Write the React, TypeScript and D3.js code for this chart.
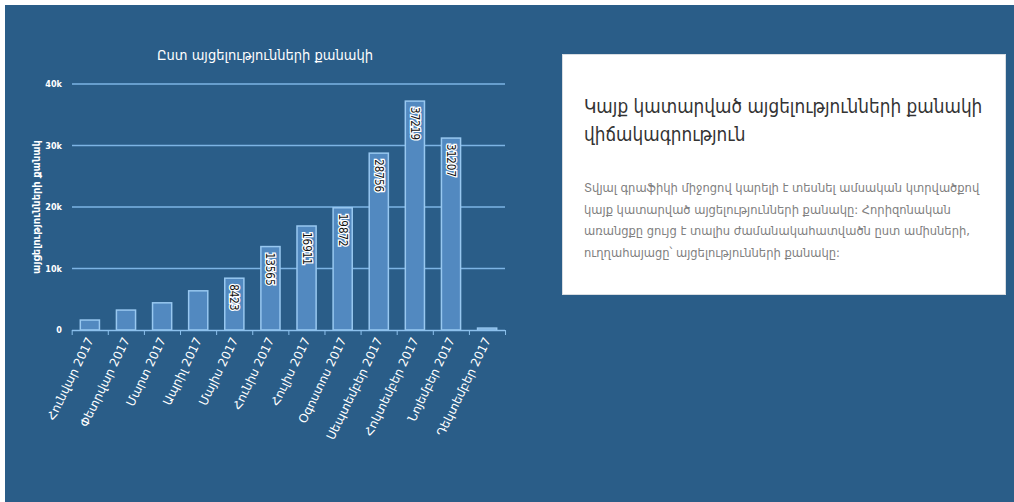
import { useEffect, useRef } from "react";
import * as d3 from "d3";

const months = [
  "Հունվար 2017",
  "Փետրվար 2017",
  "Մարտ 2017",
  "Ապրիլ 2017",
  "Մայիս 2017",
  "Հունիս 2017",
  "Հուլիս 2017",
  "Օգոստոս 2017",
  "Սեպտեմբեր 2017",
  "Հոկտեմբեր 2017",
  "Նոյեմբեր 2017",
  "Դեկտեմբեր 2017",
];
const visits = [1620, 3240, 4420, 6370, 8423, 13565, 16911, 19872, 28756, 37219, 31207, 310];
const yTicks = [0, 10000, 20000, 30000, 40000];
const yTickLabels = ["0", "10k", "20k", "30k", "40k"];

const chartTitle = "Ըստ այցելությունների քանակի";
const yAxisTitle = "այցելությունների քանակ";
const panelTitle = ["Կայք կատարված այցելությունների քանակի", "վիճակագրություն"];
const panelText = [
  "Տվյալ գրաֆիկի միջոցով կարելի է տեսնել ամսական կտրվածքով",
  "կայք կատարված այցելությունների քանակը: Հորիզոնական",
  "առանցքը ցույց է տալիս ժամանակահատվածն ըստ ամիսների,",
  "ուղղահայացը՝ այցելությունների քանակը:",
];

const W = 1014;
const H = 502;
const FONT = "'DejaVu Sans Condensed', 'DejaVu Sans', sans-serif";
const FONT_WIDE = "'DejaVu Sans', sans-serif";

export default function App() {
  const svgRef = useRef<SVGSVGElement>(null);

  useEffect(() => {
    if (!svgRef.current) return;
    const svg = d3.select(svgRef.current);
    svg.selectAll("*").remove();

    // background
    svg.append("rect").attr("x", 5).attr("y", 5).attr("width", W - 5).attr("height", H - 5).attr("fill", "#2a5d88");

    const left = 72;
    const right = 505;
    const top = 84;
    const bottom = 330;

    const x = d3.scaleBand<string>().domain(months).range([left, right]).paddingInner(0.47).paddingOuter(0.23);
    const y = d3.scaleLinear().domain([0, 40000]).range([bottom, top]);

    // title
    svg.append("text")
      .attr("x", 265)
      .attr("y", 60)
      .attr("text-anchor", "middle")
      .attr("fill", "#ffffff")
      .attr("font-family", FONT)
      .attr("font-size", 14.5)
      .text(chartTitle);

    // grid lines
    svg.append("g")
      .selectAll("line")
      .data(yTicks.filter((d) => d > 0))
      .join("line")
      .attr("x1", left)
      .attr("x2", right)
      .attr("y1", (d) => y(d))
      .attr("y2", (d) => y(d))
      .attr("stroke", "#7db4e4")
      .attr("stroke-width", 1.5);

    // y tick labels
    svg.append("g")
      .selectAll("text")
      .data(yTicks)
      .join("text")
      .attr("x", 62)
      .attr("y", (d) => y(d) + 3)
      .attr("text-anchor", "end")
      .attr("fill", "#ffffff")
      .attr("font-family", FONT)
      .attr("font-size", 9)
      .attr("font-weight", "bold")
      .text((_, i) => yTickLabels[i]);

    // y axis title
    svg.append("text")
      .attr("transform", `translate(40, ${(top + bottom) / 2}) rotate(-90)`)
      .attr("text-anchor", "middle")
      .attr("fill", "#ffffff")
      .attr("font-family", FONT)
      .attr("font-size", 11)
      .attr("font-weight", "bold")
      .text(yAxisTitle);

    // bars
    svg.append("g")
      .selectAll("rect")
      .data(visits)
      .join("rect")
      .attr("x", (_, i) => x(months[i])!)
      .attr("y", (d) => y(d))
      .attr("width", x.bandwidth())
      .attr("height", (d) => bottom - y(d))
      .attr("fill", "#5289c0")
      .attr("stroke", "#98c8f0")
      .attr("stroke-width", 1.5);

    // value labels
    svg.append("g")
      .selectAll("text")
      .data(visits.map((v, i) => ({ v, i })).filter((d) => d.v > 8000))
      .join("text")
      .attr("transform", (d) => `translate(${x(months[d.i])! + x.bandwidth() / 2 - 4}, ${y(d.v) + 6}) rotate(90)`)
      .attr("fill", "#111111")
      .attr("stroke", "#ffffff")
      .attr("stroke-width", 2.5)
      .attr("paint-order", "stroke")
      .attr("font-family", FONT)
      .attr("font-size", 11.5)
      .text((d) => String(d.v));

    // x axis
    const xAxis = svg.append("g");
    xAxis.append("line")
      .attr("x1", left)
      .attr("x2", right)
      .attr("y1", bottom + 0.5)
      .attr("y2", bottom + 0.5)
      .attr("stroke", "#8cc0ec")
      .attr("stroke-width", 1.5);
    const boundaries = d3.range(months.length + 1).map((i) => left + i * x.step() - (x.step() * 0.23 - x.step() * 0.235));
    xAxis.selectAll("line.tick")
      .data(boundaries)
      .join("line")
      .attr("class", "tick")
      .attr("x1", (d) => d)
      .attr("x2", (d) => d)
      .attr("y1", bottom)
      .attr("y2", bottom + 5)
      .attr("stroke", "#8cc0ec")
      .attr("stroke-width", 1);

    xAxis.selectAll("text")
      .data(months)
      .join("text")
      .attr("transform", (d) => `translate(${x(d)! + x.bandwidth() / 2 + 4}, ${bottom + 10}) rotate(-64)`)
      .attr("text-anchor", "end")
      .attr("fill", "#ffffff")
      .attr("font-family", FONT_WIDE)
      .attr("font-size", 12)
      .text((d) => d);

    // info panel
    const panel = svg.append("g");
    panel.append("rect")
      .attr("x", 562.5)
      .attr("y", 54.5)
      .attr("width", 443)
      .attr("height", 240)
      .attr("fill", "#ffffff")
      .attr("stroke", "#d8dde2")
      .attr("stroke-width", 1);
    panel.selectAll("text.title")
      .data(panelTitle)
      .join("text")
      .attr("class", "title")
      .attr("x", 584)
      .attr("y", (_, i) => 113 + i * 28)
      .attr("fill", "#333333")
      .attr("font-family", FONT)
      .attr("font-size", 18.8)
      .text((d) => d);
    panel.selectAll("text.body")
      .data(panelText)
      .join("text")
      .attr("class", "body")
      .attr("x", 584)
      .attr("y", (_, i) => 192 + i * 21.5)
      .attr("fill", "#808080")
      .attr("font-family", FONT)
      .attr("font-size", 12.8)
      .text((d) => d);
  }, []);

  return (
    <div style={{ position: "absolute", left: 0, top: 0 }}>
      <svg ref={svgRef} width={W} height={H} style={{ display: "block", background: "#ffffff" }} />
    </div>
  );
}
